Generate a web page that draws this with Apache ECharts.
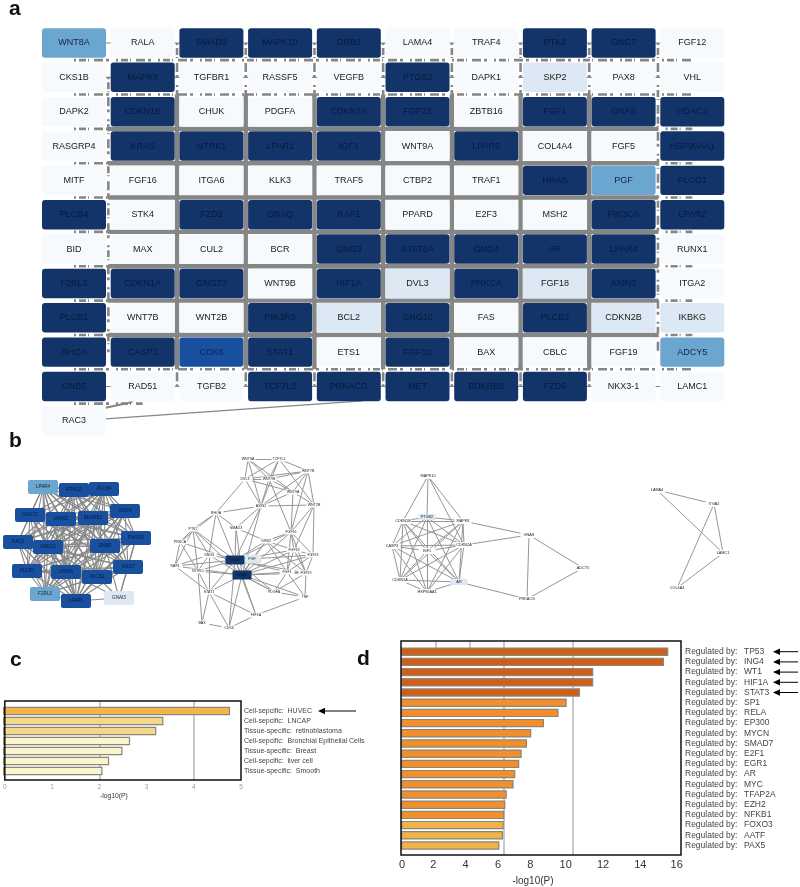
<!DOCTYPE html>
<html>
<head>
<meta charset="utf-8">
<style>html,body{margin:0;padding:0;background:#fff}#chart{width:800px;height:887px}</style>
<script src="https://cdn.jsdelivr.net/npm/echarts@6/dist/echarts.min.js"></script>
</head>
<body>
<div id="chart"></div>
<script>
// ---------- Panel a: gene table ----------
const geneRows = [
  ['WNT8A','RALA','SMAD3','MAPK10','GRB2','LAMA4','TRAF4','PTK2','GNG7','FGF12'],
  ['CKS1B','MAPK8','TGFBR1','RASSF5','VEGFB','PTGS2','DAPK1','SKP2','PAX8','VHL'],
  ['DAPK2','CDKN1B','CHUK','PDGFA','CDKN2A','FGF23','ZBTB16','FGF1','GNAS','HDAC2'],
  ['RASGRP4','KRAS','NTRK1','LPAR1','IGF1','WNT9A','LPAR5','COL4A4','FGF5','HSP90AA1'],
  ['MITF','FGF16','ITGA6','KLK3','TRAF5','CTBP2','TRAF1','HRAS','PGF','PLCG1'],
  ['PLCB4','STK4','FZD2','GNAQ','RAF1','PPARD','E2F3','MSH2','PIK3CA','LPAR2'],
  ['BID','MAX','CUL2','BCR','GNG3','STAT5A','GNG4','AR','LPAR4','RUNX1'],
  ['F2RL3','CDKN1A','GNGT2','WNT9B','HIF1A','DVL3','PRKCA','FGF18','AXIN2','ITGA2'],
  ['PLCB1','WNT7B','WNT2B','PIK3R3','BCL2','GNG10','FAS','PLCB2','CDKN2B','IKBKG'],
  ['RHOA','CASP3','CDK6','STAT1','ETS1','FGF10','BAX','CBLC','FGF19','ADCY5'],
  ['GNB5','RAD51','TGFB2','TCF7L2','PRKACG','MET','BDKRB2','FZD6','NKX3-1','LAMC1'],
  ['RAC3']
];
const levelRows = [
  [2,0,4,4,4,0,0,4,4,0],
  [0,4,0,0,0,4,0,1,0,0],
  [0,4,0,0,4,4,0,4,4,4],
  [0,4,4,4,4,0,4,0,0,4],
  [0,0,0,0,0,0,0,4,2,4],
  [4,0,4,4,4,0,0,0,4,4],
  [0,0,0,0,4,4,4,4,4,0],
  [4,4,4,0,4,1,4,1,4,0],
  [4,0,0,4,1,4,0,4,1,1],
  [4,4,3,4,0,4,0,0,0,2],
  [4,0,0,4,4,4,4,4,0,0],
  [0]
];
// Edge bundles running in the gutters of the table: [kind, line, from, to, broken]
const edgeBundles = [
  ['h',0,0,9,1],['h',1,0,9,1],['h',2,1,8,0],['h',2,0,1,1],['h',2,8,9,1],
  ['h',3,1,8,0],['h',3,0,1,1],['h',3,8,9,1],['h',4,1,8,0],['h',4,0,1,1],['h',4,8,9,1],
  ['h',5,1,8,0],['h',5,0,1,1],['h',5,8,9,1],['h',6,1,8,0],['h',6,0,1,1],['h',6,8,9,1],
  ['h',7,1,8,0],['h',7,0,1,1],['h',7,8,9,1],['h',8,1,8,0],['h',8,0,1,1],['h',8,8,9,1],
  ['h',9,0,9,1],['h',10,0,1,1],
  ['v',0,1,9,1],['v',1,2,9,0],['v',2,2,9,0],['v',3,2,9,0],['v',4,2,9,0],['v',5,2,9,0],['v',6,2,9,0],
  ['v',7,2,9,0],['v',8,2,9,1],
  ['v',1,0,2,1],['v',2,0,2,1],['v',3,0,2,1],['v',4,0,2,1],['v',5,0,2,1],['v',6,0,2,1],['v',7,0,2,1],['v',8,0,2,1],
  ['v',1,9,10,1],['v',2,9,10,1],['v',3,9,10,1],['v',4,9,10,1],['v',5,9,10,1],['v',6,9,10,1],['v',7,9,10,1]
];
const rowStubs = [0,1,10];
const rac3Edge = [0,11,4,10];

// ---------- Panel b: modules [name, layoutX, layoutY, level] ----------
const moduleA = [
  ['LPAR4',43,487,2],['PRKCA',74,490,3],['PLCB4',104,489,3],['GNGT2',30,515,3],['LPAR2',61,519,3],
  ['BDKRB2',93,518,3],['GNG4',125,511,3],['PIK3R3',136,538,3],['RAC3',18,542,3],['GNG10',48,547,3],
  ['GNB5',105,546,3],['PLCB1',27,571,3],['LPAR5',66,572,3],['PLCB2',97,577,3],['GNG7',128,567,3],
  ['F2RL3',45,594,2],['LPAR1',76,601,3],['GNAI3',119,598,1]
];
const moduleB = [
  ['WNT8A',248,459,0],['TCF7L2',279,459,0],['WNT7B',308,471,0],['DVL3',245,479,0],['WNT9B',269,479,0],
  ['WNT9A',293,492,0],['WNT2B',314,505,0],['AXIN2',261,506,0],['RHOA',216,513,0],['FGF16',291,532,0],
  ['SMAD3',236,528,0],['PTK2',193,529,0],['GRB2',266,541,0],['PRKCA',180,542,0],['FGF18',294,550,0],
  ['GNG3',209,555,0],['FGF23',313,555,0],['PGF',252,559,1],['KRAS',235,560,4],['RAF1',175,566,0],
  ['NTRK1',198,571,0],['HRAS',242,575,4],['FGF1',287,572,0],['FGF19',306,573,0],['STAT1',209,592,0],
  ['PDGFA',274,592,0],['TNF',305,597,0],['HIF1A',256,615,0],['BAX',202,623,0],['CDK6',229,628,0]
];
const moduleBLinks = ('WNT8A-DVL3 WNT8A-WNT9B WNT8A-AXIN2 WNT8A-TCF7L2 WNT8A-WNT9A TCF7L2-WNT9B TCF7L2-DVL3 TCF7L2-WNT7B TCF7L2-WNT2B TCF7L2-AXIN2 '
 +'WNT7B-DVL3 WNT7B-WNT9B WNT7B-WNT9A WNT7B-AXIN2 WNT7B-WNT2B DVL3-WNT9B DVL3-AXIN2 DVL3-RHOA DVL3-WNT9A WNT9B-WNT9A WNT9B-AXIN2 WNT9A-AXIN2 WNT9A-WNT2B '
 +'AXIN2-WNT2B AXIN2-RHOA AXIN2-SMAD3 AXIN2-KRAS AXIN2-HRAS WNT9B-FGF16 WNT9A-FGF16 WNT2B-FGF16 WNT2B-FGF18 WNT2B-FGF23 WNT7B-FGF16 RHOA-PTK2 RHOA-SMAD3 RHOA-GNG3 RHOA-KRAS '
 +'RHOA-PRKCA PTK2-PRKCA PTK2-RAF1 PTK2-GNG3 PTK2-KRAS PTK2-NTRK1 PTK2-HRAS PRKCA-RAF1 PRKCA-KRAS PRKCA-NTRK1 RAF1-KRAS RAF1-HRAS RAF1-GNG3 RAF1-STAT1 GNG3-KRAS GNG3-NTRK1 GNG3-HRAS '
 +'SMAD3-KRAS SMAD3-HRAS SMAD3-GRB2 GRB2-KRAS GRB2-HRAS GRB2-FGF18 GRB2-FGF1 GRB2-FGF19 GRB2-FGF16 GRB2-PGF FGF16-KRAS FGF16-HRAS FGF16-FGF1 FGF16-FGF19 FGF16-FGF18 FGF16-FGF23 '
 +'FGF18-KRAS FGF18-HRAS FGF18-FGF1 FGF18-FGF19 FGF18-FGF23 FGF23-KRAS FGF23-HRAS FGF23-FGF1 FGF23-FGF19 FGF1-KRAS FGF1-HRAS FGF1-FGF19 FGF1-PDGFA FGF1-TNF FGF19-KRAS FGF19-HRAS FGF19-PDGFA FGF19-TNF '
 +'PDGFA-KRAS PDGFA-HRAS PDGFA-TNF PGF-KRAS PGF-HRAS KRAS-HRAS KRAS-NTRK1 KRAS-STAT1 HRAS-NTRK1 HRAS-STAT1 HRAS-HIF1A HRAS-CDK6 HRAS-PDGFA HRAS-TNF KRAS-HIF1A KRAS-CDK6 '
 +'NTRK1-STAT1 GNG3-STAT1 STAT1-BAX STAT1-CDK6 STAT1-HIF1A NTRK1-BAX BAX-CDK6 CDK6-HIF1A HIF1A-TNF').split(' ').map(p => p.split('-'));
const moduleC = [
  ['MAPK10',428,476,0],['CDKN1B',403,521,0],['PTGS2',427,517,1],['MAPK8',463,521,0],['GNAS',529,535,0],
  ['CASP3',392,546,0],['CDKN2A',464,545,0],['IGF1',427,551,0],['ADCY5',583,568,0],['CDKN1A',400,580,0],
  ['AR',459,582,1],['HSP90AA1',427,592,0],['PRKACG',527,599,0]
];
const moduleCHub = ['CDKN1B','PTGS2','MAPK8','CASP3','CDKN2A','IGF1','CDKN1A','AR','HSP90AA1'];
const moduleCLinks = [['MAPK10','CDKN1B'],['MAPK10','PTGS2'],['MAPK10','MAPK8'],['MAPK10','CDKN2A'],['MAPK8','GNAS'],
  ['CDKN2A','GNAS'],['GNAS','ADCY5'],['GNAS','PRKACG'],['ADCY5','PRKACG'],['AR','PRKACG']];
const moduleD = [['LAMA4',657,490,0],['ITGA2',714,504,0],['LAMC1',723,553,0],['COL4A4',677,588,0]];
const moduleDLinks = [['LAMA4','ITGA2'],['LAMA4','LAMC1'],['ITGA2','LAMC1'],['ITGA2','COL4A4'],['LAMC1','COL4A4']];

// ---------- Panel c ----------
const cNames = ['Cell-sepcific:  HUVEC','Cell-sepcific:  LNCAP','Tissue-specific:  retinoblastoma','Cell-sepcific:  Bronchial Epithelial Cells','Tissue-specific:  Breast','Cell-sepcific:  liver cell','Tissue-specific:  Smooth'];
const cValues = [4.77,3.37,3.22,2.67,2.51,2.23,2.09];
const cTiers = [1,2,2,3,3,3,3];
const cRefLines = [2,4];
const cArrows = ['Cell-sepcific:  HUVEC'];

// ---------- Panel d ----------
const dNames = ['TP53','ING4','WT1','HIF1A','STAT3','SP1','RELA','EP300','MYCN','SMAD7','E2F1','EGR1','AR','MYC','TFAP2A','EZH2','NFKB1','FOXO3','AATF','PAX5'];
const dValues = [15.57,15.32,11.2,11.2,10.43,9.65,9.18,8.33,7.59,7.34,7.03,6.89,6.66,6.56,6.16,6.08,6.02,5.98,5.94,5.73];
const dTiers = [4,4,4,4,4,5,5,5,5,5,5,5,5,5,5,5,5,6,6,6];
const dRefLines = [6,10];
const dTopStubs = [2,4];
const dArrows = ['TP53','ING4','WT1','HIF1A','STAT3'];
const dLabelNudge = {0:1,2:-2,4:-4,6:-6,8:-8,10:-7,12:-4,14:-1,16:1};

// ---------- Styles ----------
const FONT = '"Liberation Sans", Arial, sans-serif';
const nodeColors = ['#f7fafd','#dce8f3','#6ba6d1','#18509f','#123469'];
const nodeText = ['#1a1a1a','#1a1a1a','#14233f','#0a2450','#061a3d'];
const barColors = [null,'#f2b54c','#f5d78c','#fbf5cf','#cf5f17','#f28f2c','#efb347'];
const EDGE = '#868686';
const NODE_PATH = 'path://M2,0H28Q30,0 30,2V12Q30,14 28,14H2Q0,14 0,12V2Q0,0 2,0Z';

const cellData = [];
geneRows.forEach((row, r) => row.forEach((name, c) => cellData.push([c, r, levelRows[r][c], name])));

function renderCell(params, api) {
  const p = api.coord([api.value(0), api.value(1)]);
  const s = api.size([1, 1]);
  const w = s[0] - 4.7, h = s[1] - 4.9;
  const lv = api.value(2);
  return {
    type: 'group',
    children: [
      { type: 'rect', shape: { x: p[0] - w / 2, y: p[1] - h / 2, width: w, height: h, r: 3 }, style: { fill: nodeColors[lv] } },
      { type: 'text', style: { x: p[0], y: p[1], text: cellData[params.dataIndex][3], fill: nodeText[lv], stroke: null, lineWidth: 0, align: 'center', verticalAlign: 'middle', font: '9px ' + FONT } }
    ]
  };
}
function renderBundle(params, api) {
  const b = edgeBundles[params.dataIndex];
  const s = api.size([1, 1]);
  let x1, y1, x2, y2;
  if (b[0] === 'h') {
    const a = api.coord([b[2], b[1]]), z = api.coord([b[3], b[1]]);
    y1 = y2 = a[1] + s[1] / 2; x1 = a[0]; x2 = z[0];
    if (b[4] === 0) { x1 = a[0] - s[0] / 2; x2 = z[0] + s[0] / 2; }
  } else {
    const a = api.coord([b[1], b[2]]), z = api.coord([b[1], b[3]]);
    x1 = x2 = a[0] + s[0] / 2; y1 = a[1]; y2 = z[1];
    if (b[4] === 0) { y1 = a[1] - s[1] / 2; y2 = z[1] + s[1] / 2; }
  }
  return { type: 'line', shape: { x1, y1, x2, y2 }, style: { stroke: EDGE, lineWidth: b[4] ? 2.6 : 4.4, lineDash: b[4] ? [2, 3, 7, 2, 1, 5, 9, 3, 3, 7] : null, fill: null } };
}
function renderStub(params, api) {
  const r = rowStubs[params.dataIndex];
  const a = api.coord([0, r]), z = api.coord([9, r]);
  return { type: 'line', shape: { x1: a[0], y1: a[1], x2: z[0], y2: z[1] }, style: { stroke: EDGE, lineWidth: 1.2, fill: null } };
}
function renderRac3(params, api) {
  const a = api.coord([rac3Edge[0], rac3Edge[1]]), z = api.coord([rac3Edge[2], rac3Edge[3]]);
  const s = api.size([1, 1]);
  return { type: 'group', children: [
    { type: 'line', shape: { x1: a[0] + s[0] * 0.46, y1: a[1] - 2, x2: z[0] + s[0] * 0.2, y2: z[1] + s[1] * 0.42 }, style: { stroke: EDGE, lineWidth: 1.4, fill: null } },
    { type: 'line', shape: { x1: a[0] + s[0] * 0.46, y1: a[1] - s[1] * 0.38, x2: a[0] + s[0] * 0.85, y2: a[1] - s[1] * 0.55 }, style: { stroke: EDGE, lineWidth: 2, fill: null } }
  ] };
}
function arrowRenderer(names, xMax, tipDx, tailDx) {
  return function (params, api) {
    const p = api.coord([xMax, names[params.dataIndex]]);
    const tip = p[0] + tipDx, tail = p[0] + tailDx, y = p[1];
    return { type: 'group', children: [
      { type: 'line', shape: { x1: tip + 5, y1: y, x2: tail, y2: y }, style: { stroke: '#000', lineWidth: 1, fill: null } },
      { type: 'polygon', shape: { points: [[tip, y], [tip + 7, y - 3.2], [tip + 7, y + 3.2]] }, style: { fill: '#000' } }
    ] };
  };
}

function moduleSeries(nodes, links, opts) {
  return {
    type: 'graph', coordinateSystem: 'cartesian2d', xAxisIndex: 1, yAxisIndex: 1, silent: true, roam: false, animation: false,
    symbol: NODE_PATH, z: 3,
    data: nodes.map(n => ({
      name: n[0], value: [n[1], n[2]],
      symbolSize: n[3] === 0 ? opts.plain : opts.filled,
      itemStyle: { color: n[3] === 0 ? '#fff' : nodeColors[n[3]] },
      label: { show: true, position: 'inside', formatter: n[0], fontSize: opts.font, fontFamily: FONT, color: n[3] >= 3 ? '#061a3d' : '#222', textBorderWidth: 0 }
    })),
    links: links.map(l => ({ source: l[0], target: l[1] })),
    lineStyle: { color: opts.edge, width: opts.width, opacity: 1, curveness: 0 }
  };
}
function pairs(names) {
  const out = [];
  names.forEach((a, i) => names.slice(i + 1).forEach(b => out.push([a, b])));
  return out;
}
const moduleALinks = pairs(moduleA.slice(0, 17).map(n => n[0])).concat([['GNAI3','LPAR1'],['GNAI3','PLCB2'],['GNAI3','GNG7'],['GNAI3','LPAR5'],['GNAI3','GNB5'],['GNAI3','PIK3R3']]);

const hiddenAxis = (extra) => Object.assign({ show: false }, extra);
function frameX(gridIndex, max, interval, labelOpts, name, nameOpts) {
  return {
    type: 'value', gridIndex, min: 0, max, interval, name, nameLocation: 'middle', nameGap: nameOpts.gap,
    nameTextStyle: { fontSize: nameOpts.size, color: '#333', fontFamily: FONT, padding: nameOpts.padding },
    axisLine: { show: false }, axisTick: { show: false }, splitLine: { show: false },
    axisLabel: labelOpts
  };
}
function refSeries(xIndex, yIndex, lines, stubs) {
  const data = lines.map(v => ([{ coord: [v, 0] }, { coord: [v, 1] }]))
    .concat(stubs.map(v => ([{ coord: [v, 1] }, { coord: [v, 0.93] }])));
  return {
    type: 'line', xAxisIndex: xIndex, yAxisIndex: yIndex, data: [[0, 0]], symbol: 'none', silent: true, z: 1,
    lineStyle: { opacity: 0 },
    markLine: { z: 1, silent: true, symbol: 'none', animation: false, label: { show: false }, lineStyle: { color: '#c9c9c9', width: 2, type: 'solid' }, data }
  };
}
function barSeries(x, y, names, values, tiers) {
  return {
    type: 'bar', xAxisIndex: x, yAxisIndex: y, barWidth: 8.4, z: 2, silent: true,
    data: values.map((v, i) => ({ value: v, itemStyle: { color: barColors[tiers[i]], borderColor: '#8b8678', borderWidth: 1.2 } }))
  };
}

const DMAX = 16.31;
const option = {
  animation: false,
  backgroundColor: '#fff',
  textStyle: { fontFamily: FONT },
  graphic: [
    { type: 'text', left: 9, top: -1, style: { text: 'a', font: 'bold 21px ' + FONT, fill: '#111' } },
    { type: 'text', left: 9, top: 431, style: { text: 'b', font: 'bold 21px ' + FONT, fill: '#111' } },
    { type: 'text', left: 10, top: 650, style: { text: 'c', font: 'bold 21px ' + FONT, fill: '#111' } },
    { type: 'text', left: 357, top: 649, style: { text: 'd', font: 'bold 21px ' + FONT, fill: '#111' } }
  ],
  grid: [
    { left: 39.65, top: 25.8, width: 687, height: 412.2 },
    { left: 0, top: 430, width: 800, height: 210 },
    { left: 3, top: 701, width: 238, height: 79, show: true, borderColor: '#111', borderWidth: 1.5, backgroundColor: 'transparent', z: 5 },
    { left: 3, top: 706, width: 238, height: 70 },
    { left: 401, top: 641, width: 280, height: 214, show: true, borderColor: '#111', borderWidth: 1.5, backgroundColor: 'transparent', z: 5 },
    { left: 401, top: 646.6, width: 280, height: 204 }
  ],
  xAxis: [
    hiddenAxis({ type: 'category', gridIndex: 0, data: geneRows[0].map((g, i) => i) }),
    hiddenAxis({ type: 'value', gridIndex: 1, min: 0, max: 800 }),
    frameX(2, 5, 1, { fontSize: 6.5, color: '#999', margin: 4, fontFamily: FONT }, '-log10(P)', { gap: 13, size: 6.8, padding: [0, 18, 0, 0] }),
    hiddenAxis({ type: 'value', gridIndex: 3, min: 0, max: 5 }),
    frameX(4, DMAX, 2, {
      fontSize: 11, color: '#333', margin: 4, fontFamily: FONT, showMaxLabel: false,
      formatter: v => {
        const n = dLabelNudge[v];
        if (n === undefined) return '';
        return '{t' + v + '|' + v + '}';
      },
      rich: Object.fromEntries(Object.entries(dLabelNudge).map(([k, n]) => ['t' + k, {
        fontSize: 11, color: '#333', fontFamily: FONT,
        padding: n < 0 ? [0, -2 * n, 0, 0] : [0, 0, 0, 2 * n]
      }]))
    }, '-log10(P)', { gap: 21, size: 10, padding: [0, 16, 0, 0] }),
    hiddenAxis({ type: 'value', gridIndex: 5, min: 0, max: DMAX })
  ],
  yAxis: [
    hiddenAxis({ type: 'category', gridIndex: 0, inverse: true, data: geneRows.map((g, i) => i) }),
    hiddenAxis({ type: 'value', gridIndex: 1, min: 430, max: 640, inverse: true }),
    hiddenAxis({ type: 'value', gridIndex: 2, min: 0, max: 1 }),
    {
      type: 'category', gridIndex: 3, inverse: true, data: cNames, position: 'right',
      axisLine: { show: false }, axisTick: { show: false },
      axisLabel: { fontSize: 7, color: '#444', margin: 3, fontFamily: FONT, interval: 0 }
    },
    hiddenAxis({ type: 'value', gridIndex: 4, min: 0, max: 1 }),
    {
      type: 'category', gridIndex: 5, inverse: true, data: dNames, position: 'right',
      axisLine: { show: false }, axisTick: { show: false },
      axisLabel: {
        margin: 4, interval: 0, fontFamily: FONT,
        formatter: v => '{p|Regulated by:}{n|' + v + '}',
        rich: {
          p: { fontSize: 8.5, color: '#444', width: 59, fontFamily: FONT },
          n: { fontSize: 8.5, color: '#444', fontFamily: FONT }
        }
      }
    }
  ],
  series: [
    { type: 'custom', xAxisIndex: 0, yAxisIndex: 0, data: rowStubs.map(r => [0, r]), renderItem: renderStub, z: 1, silent: true },
    { type: 'custom', xAxisIndex: 0, yAxisIndex: 0, data: edgeBundles.map(b => b[0] === 'h' ? [b[2], b[1]] : [b[1], b[2]]), renderItem: renderBundle, z: 1, silent: true },
    { type: 'custom', xAxisIndex: 0, yAxisIndex: 0, data: [[rac3Edge[0], rac3Edge[1]]], renderItem: renderRac3, z: 1, silent: true },
    { type: 'custom', xAxisIndex: 0, yAxisIndex: 0, data: cellData, renderItem: renderCell, z: 2, silent: true },
    moduleSeries(moduleA, moduleALinks, { plain: [30, 14], filled: [30, 14], font: 4.6, edge: '#888888', width: 1.1 }),
    moduleSeries(moduleB, moduleBLinks, { plain: [15, 5], filled: [19, 9], font: 3.6, edge: '#969696', width: 1 }),
    moduleSeries(moduleC, pairs(moduleCHub).concat(moduleCLinks), { plain: [17, 6], filled: [17, 6], font: 3.8, edge: '#969696', width: 1 }),
    moduleSeries(moduleD, moduleDLinks, { plain: [17, 6], filled: [17, 6], font: 3.8, edge: '#969696', width: 1 }),
    refSeries(2, 2, cRefLines, []),
    barSeries(3, 3, cNames, cValues, cTiers),
    { type: 'custom', xAxisIndex: 3, yAxisIndex: 3, data: cArrows.map(n => [5, n]), renderItem: arrowRenderer(cArrows, 5, 77, 115), z: 3, silent: true },
    refSeries(4, 4, dRefLines, dTopStubs),
    barSeries(5, 5, dNames, dValues, dTiers),
    { type: 'custom', xAxisIndex: 5, yAxisIndex: 5, data: dArrows.map(n => [DMAX, n]), renderItem: arrowRenderer(dArrows, DMAX, 92, 117), z: 3, silent: true }
  ]
};
echarts.init(document.getElementById('chart'), null, { renderer: 'canvas' }).setOption(option);
</script>
</body>
</html>
